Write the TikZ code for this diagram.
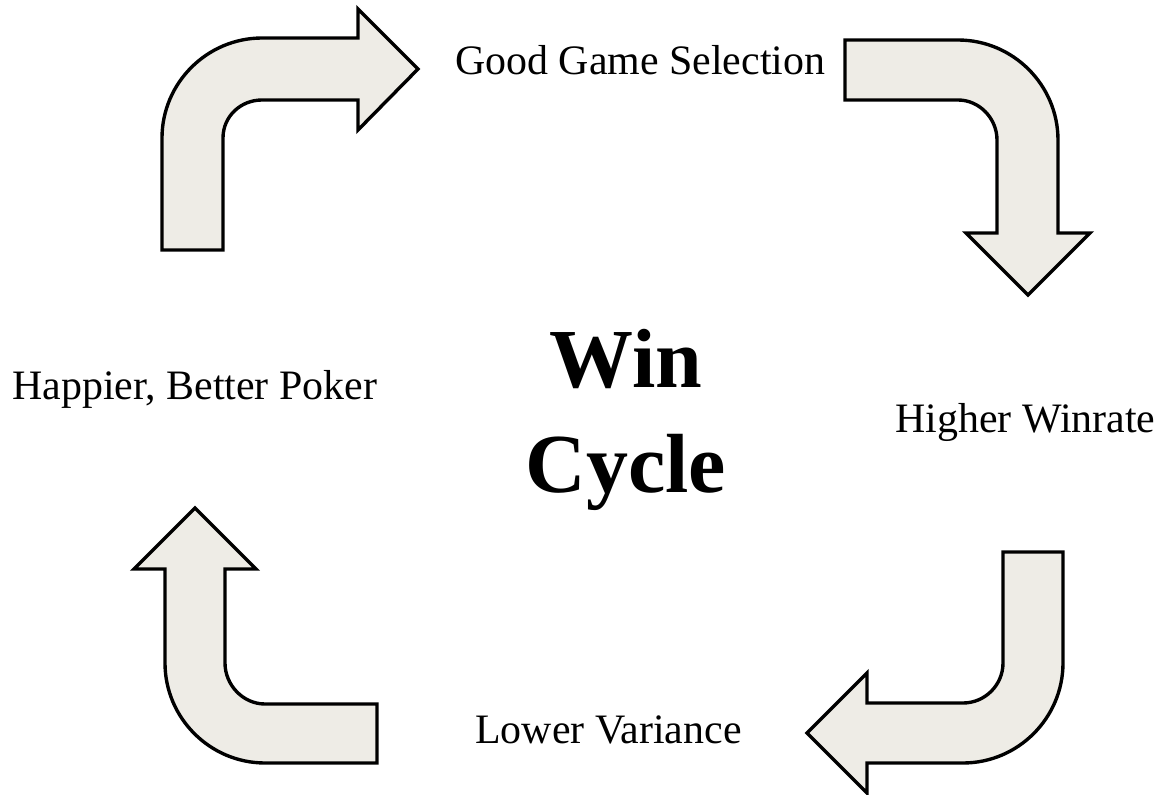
\documentclass[tikz,border=0pt]{standalone}
\usepackage{xcolor}
\usepackage{fontspec}
\setmainfont{Liberation Serif}
\usepackage{tikz}
\usetikzlibrary{calc}
\usetikzlibrary{positioning}
\definecolor{arrowfill}{RGB}{238,236,230}
\tikzset{>=latex}
\tikzstyle{blk} = [draw=black, line width=2.4pt, fill=arrowfill, line join=miter]
\tikzstyle{lbl} = [draw=none, inner sep=0, anchor=base west, font=\fontsize{29.8}{36}\selectfont]

\begin{document}
\begin{tikzpicture}[x=0.025cm, y=-0.025cm]
\useasboundingbox (0,0) rectangle (1160,795);
% bent arrows, clockwise from top left
\draw [blk] (162,250) -- (162,138) .. controls (162,83) and (207,38) .. (262,38) -- (358,38) -- (358,9) -- (418,69) -- (358,130) -- (358,100) -- (262,100) .. controls (240.5,100) and (223,116.5) .. (223,138) -- (223,250) -- cycle;
\draw [blk] (845,40) -- (958,40) .. controls (1013,40) and (1058,85) .. (1058,140) -- (1058,233) -- (1090,233) -- (1028,295) -- (966,233) -- (997,233) -- (997,140) .. controls (997,118.5) and (979.5,100) .. (958,100) -- (845,100) -- cycle;
\draw [blk] (1063,552) -- (1063,663) .. controls (1063,718) and (1018,763) .. (963,763) -- (867,763) -- (867,793) -- (807,733) -- (867,673) -- (867,703) -- (963,703) .. controls (985,703) and (1003,685) .. (1003,663) -- (1003,552) -- cycle;
\draw [blk] (377,763) -- (265,763) .. controls (210,763) and (165,718) .. (165,663) -- (165,569) -- (134,569) -- (195,508) -- (256,569) -- (225,569) -- (225,663) .. controls (225,685) and (243,704) .. (265,704) -- (377,704) -- cycle;
% labels
\node [lbl] (G) at (455,75) {Good Game Selection};
\node [lbl] (H) at (895,432) {Higher Winrate};
\node [lbl] (L) at (475,743) {Lower Variance};
\node [lbl] (P) at (12,399) {Happier, Better Poker};
\node [draw=none, inner sep=0, anchor=base, align=center, font=\fontsize{59.7}{74}\selectfont\bfseries] (W) at (626,492) {Win\\Cycle};
\end{tikzpicture}
\end{document}
